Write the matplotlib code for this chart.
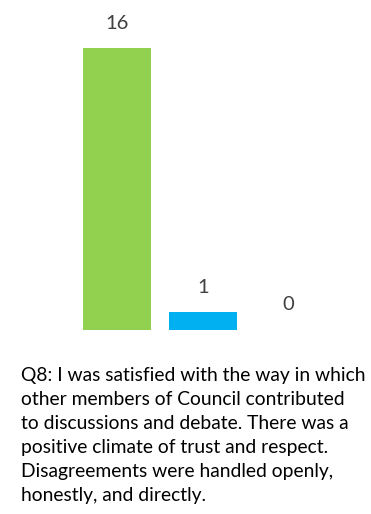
import matplotlib.pyplot as plt

# Respostas à pergunta Q8
categorias = ["Agree", "Neutral", "Disagree"]
valores = [16, 1, 0]
cores = ["#92D050", "#00B0F0", "#FF0000"]
pergunta = ("Q8: I was satisfied with the way in which\n"
            "other members of Council contributed\n"
            "to discussions and debate. There was a\n"
            "positive climate of trust and respect.\n"
            "Disagreements were handled openly,\n"
            "honestly, and directly.")

plt.rcParams['font.family'] = ['Lato', 'DejaVu Sans']

fig = plt.figure(figsize=(3.71, 5.14), dpi=100)
ax = fig.add_axes([0, 184 / 514, 1, 330 / 514])

x = range(len(categorias))
barras = ax.bar(x, valores, width=0.79, color=cores)
for b, v in zip(barras, valores):
    ax.annotate(str(v), (b.get_x() + b.get_width() / 2, v),
                xytext=(0, 18), textcoords="offset points",
                ha="center", va="center", fontsize=14.5, color="#404040")

ax.set_xlim(-116.7 / 86, (371 - 116.7) / 86)
ax.set_ylim(0, 330 / 17.6)
ax.axis("off")

fig.text(21 / 371, 1 - 367 / 514, pergunta, ha="left", va="top",
         fontsize=13.9, color="#000000", linespacing=1.5)

fig.savefig("out.png", dpi=100)
